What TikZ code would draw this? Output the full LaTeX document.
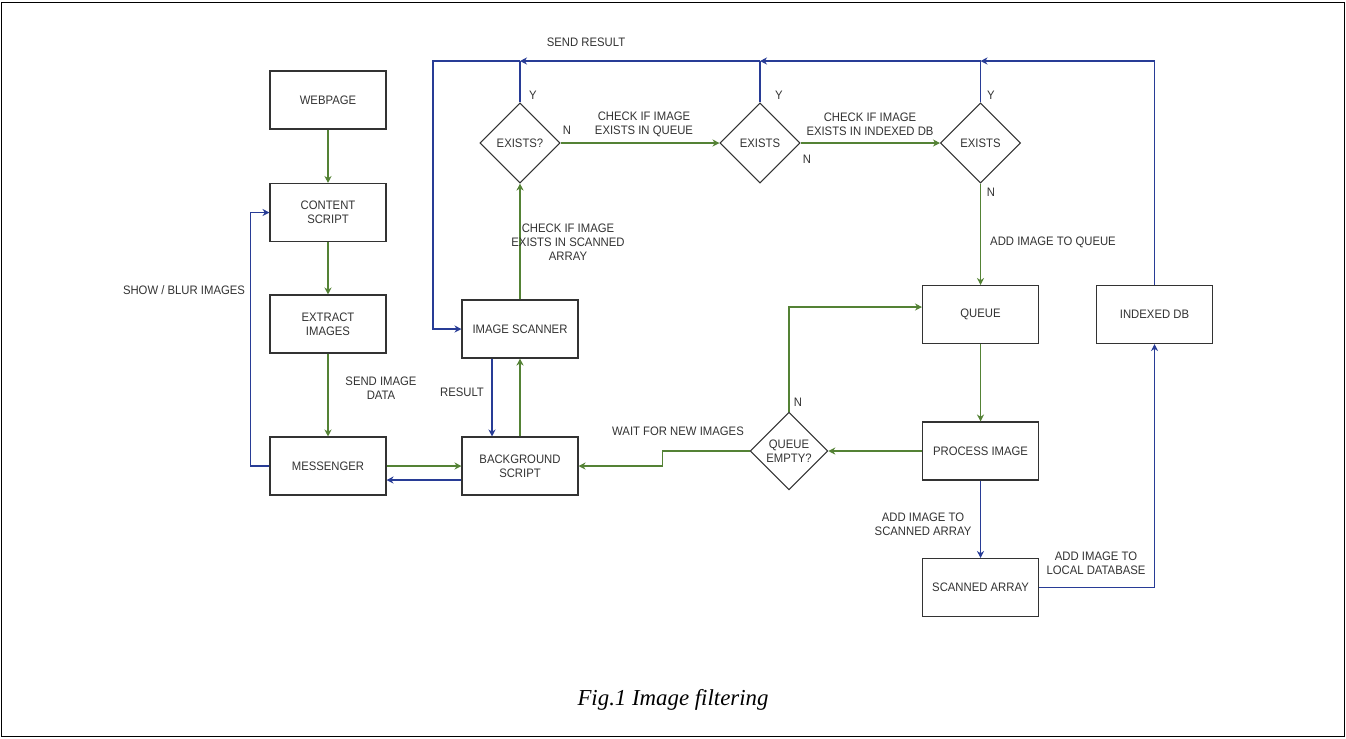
\documentclass[tikz,border=0pt]{standalone}
\usepackage{fontspec}
\setmainfont{Liberation Sans}[FakeStretch=0.92]
\newfontfamily\capfont{Liberation Serif}
\usepackage{xcolor}
\usetikzlibrary{arrows.meta, positioning, calc, shapes.geometric}
\definecolor{flowgreen}{RGB}{84,130,53}
\definecolor{flowblue}{RGB}{40,60,150}

\begin{document}
\begin{tikzpicture}[x=0.02cm, y=-0.02cm, font=\fontsize{7}{8}\selectfont,
    box/.style={rectangle, draw=black!80, line width=0.6pt, minimum width=2.32cm, minimum height=1.16cm, align=center, text=black!80, inner sep=1pt},
    decision/.style={diamond, draw=black!80, line width=0.6pt, minimum width=1.6cm, minimum height=1.6cm, align=center, inner sep=0pt, text=black!80},
    garrow/.style={draw=flowgreen, line width=0.6pt, -{Stealth[length=4pt, width=4pt]}},
    barrow/.style={draw=flowblue, line width=0.6pt, -{Stealth[length=4pt, width=4pt]}},
    bline/.style={draw=flowblue, line width=0.6pt},
    lbl/.style={align=center, text=black!80, inner sep=0pt}]
    \useasboundingbox (0,0) rectangle (1346,738);
    \draw[line width=1pt] (1.5,2.5) rectangle (1344.5,736.5);

    % left column
    \node[box] (web) at (328,100) {WEBPAGE};
    \node[box] (content) at (328,212.5) {CONTENT\\SCRIPT};
    \node[box] (extract) at (328,324) {EXTRACT\\IMAGES};
    \node[box] (msg) at (328,466) {MESSENGER};
    % middle column
    \node[box] (scanner) at (520,329) {IMAGE SCANNER};
    \node[box] (bg) at (520,466) {BACKGROUND\\SCRIPT};
    % checks
    \node[decision] (d1) at (520,143) {EXISTS?};
    \node[decision] (d2) at (760,143) {EXISTS};
    \node[decision] (d3) at (980.5,143) {EXISTS};
    % right side
    \node[box] (queue) at (980.5,314.5) {QUEUE};
    \node[box] (idb) at (1154.5,314.5) {INDEXED DB};
    \node[box] (proc) at (980.5,451) {PROCESS IMAGE};
    \node[box] (scan) at (980.5,587.5) {SCANNED ARRAY};
    \node[decision, minimum width=1.55cm, minimum height=1.55cm] (qe) at (789,451) {QUEUE\\EMPTY?};

    \coordinate (corner) at (433,61);

    \draw[garrow] (web) -- (content);
    \draw[garrow] (content) -- (extract);
    \draw[garrow] (extract) -- (msg);
    \draw[barrow] (msg.west) -- ++(-19,0) |- (content.west);
    \draw[garrow] (msg.east) -- (bg.west);
    \draw[barrow] ($(bg.west)+(0,14)$) -- ($(msg.east)+(0,14)$);
    \draw[barrow] ($(scanner.south)+(-28,0)$) -- ($(bg.north)+(-28,0)$);
    \draw[garrow] (bg.north) -- (scanner.south);
    \draw[garrow] (scanner.north) -- (d1.south);
    \draw[garrow] (d1.east) -- (d2.west);
    \draw[garrow] (d2.east) -- (d3.west);
    \draw[garrow] (d3.south) -- (queue.north);
    \draw[garrow] (queue.south) -- (proc.north);
    \draw[garrow] (proc.west) -- (qe.east);
    \draw[garrow] (qe.north) |- ($(queue.west)+(0,-7.5)$);
    \draw[garrow] (qe.west) -- ++(-87,0) |- (bg.east);
    \draw[barrow] (proc.south) -- (scan.north);
    \draw[barrow] (scan.east) -| (idb.south);
    % results back to the scanner
    \draw[bline] (d1.north) -- (d1.north |- corner);
    \draw[bline] (d2.north) -- (d2.north |- corner);
    \draw[bline] (d3.north) -- (d3.north |- corner);
    \draw[barrow] (idb.north) |- (d3.north |- corner);
    \draw[barrow] (d3.north |- corner) -- (d2.north |- corner);
    \draw[barrow] (d2.north |- corner) -- (d1.north |- corner);
    \draw[barrow] (d1.north |- corner) -- (corner) |- (scanner.west);

    % labels
    \node[lbl] (lsend) at (586,42) {SEND RESULT};
    \node[lbl] (ly1) at (533,95) {Y};
    \node[lbl] (ly2) at (779,95) {Y};
    \node[lbl] (ly3) at (991,95) {Y};
    \node[lbl] (ln1) at (567,130) {N};
    \node[lbl] (ln2) at (807,159) {N};
    \node[lbl] (ln3) at (991,192) {N};
    \node[lbl] (ln4) at (798,402) {N};
    \node[lbl] (lqueue) at (644,124) {CHECK IF IMAGE\\EXISTS IN QUEUE};
    \node[lbl] (lindexed) at (870,124) {CHECK IF IMAGE\\EXISTS IN INDEXED DB};
    \node[lbl] (lscanned) at (568,242) {CHECK IF IMAGE\\EXISTS IN SCANNED\\ARRAY};
    \node[lbl] (lresult) at (462,392) {RESULT};
    \node[lbl] (ldata) at (381,388) {SEND IMAGE\\DATA};
    \node[lbl] (lshow) at (184,290) {SHOW / BLUR IMAGES};
    \node[lbl] (lwait) at (678,431) {WAIT FOR NEW IMAGES};
    \node[lbl] (laddq) at (1053,242) {ADD IMAGE TO QUEUE};
    \node[lbl] (ladds) at (923,524) {ADD IMAGE TO\\SCANNED ARRAY};
    \node[lbl] (laddl) at (1096,563) {ADD IMAGE TO\\LOCAL DATABASE};
    \node[lbl, font=\capfont\itshape\fontsize{13}{15}\selectfont, text=black] (caption) at (673,700) {Fig.1 Image filtering};
\end{tikzpicture}
\end{document}
